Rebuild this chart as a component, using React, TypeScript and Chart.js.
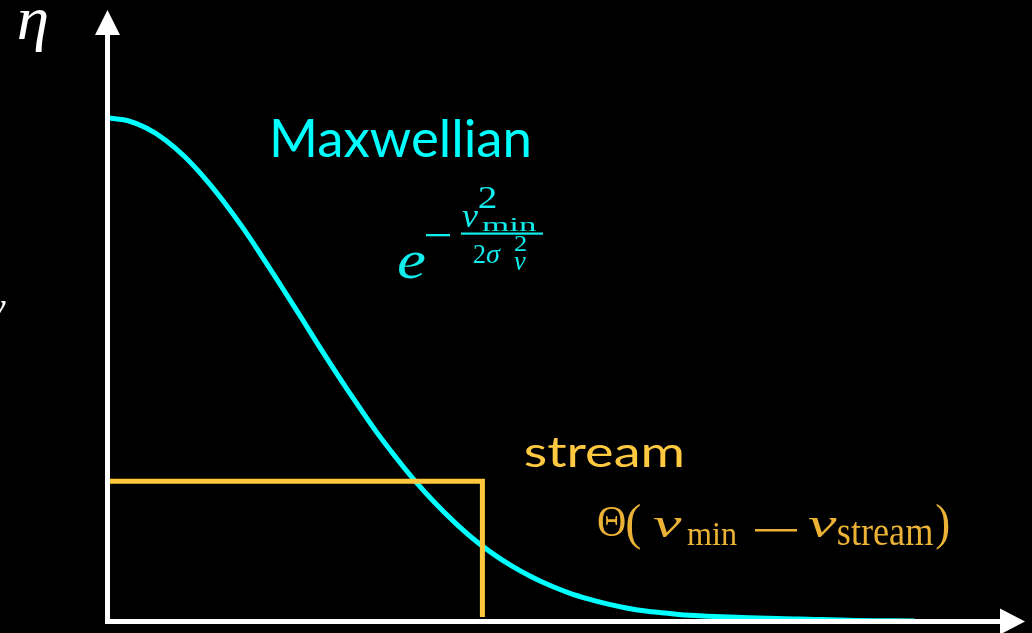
import React, { useEffect, useRef } from "react";
import { Chart, registerables } from "chart.js";

Chart.register(...registerables);

// Speed grid (v_min in units of sigma_v) and the Maxwellian weight read along it
const speedGrid = [
  0, 0.1, 0.2, 0.3, 0.4, 0.5, 0.6, 0.7, 0.8, 0.9, 1.0, 1.1, 1.2, 1.3, 1.4, 1.5, 1.6, 1.7, 1.8, 1.9,
  2.0, 2.1, 2.2, 2.3, 2.4, 2.5, 2.6, 2.7, 2.8, 2.9, 3.0, 3.3, 3.6, 3.9, 4.2,
];
const maxwellianEta = [
  1.0, 0.995, 0.98, 0.956, 0.923, 0.882, 0.835, 0.783, 0.726, 0.667, 0.607, 0.546, 0.487, 0.43, 0.375,
  0.325, 0.278, 0.236, 0.198, 0.164, 0.135, 0.11, 0.089, 0.071, 0.056, 0.044, 0.034, 0.026, 0.02, 0.016,
  0.012, 0.007, 0.004, 0.001, 0.0,
];

// Stream step function: flat until v_stream, then drops
const streamSpeed = [0, 1.95, 1.95];
const streamEta = [0.278, 0.278, 0.008];

// Axis ranges
const speedRange = [0, 4.8125];
const etaRange = [0, 1.2];

const CYAN = "#00FFFF";
const CYAN_MATH = "#12EDED";
const GOLD_LINE = "#FFC83C";
const GOLD_TEXT = "#FFC940";
const GOLD_MATH = "#EBB236";
const SERIF = '"Liberation Serif", "DejaVu Serif", serif';
const SANS = 'Lato, "Open Sans", sans-serif';

type Box = [number, number, number, number];

// Draw a piece of text scaled so its inked bounds fill the given box
function fitText(ctx: CanvasRenderingContext2D, text: string, font: string, color: string, box: Box) {
  const [x0, y0, x1, y1] = box;
  ctx.save();
  ctx.font = font;
  ctx.fillStyle = color;
  ctx.textAlign = "left";
  ctx.textBaseline = "alphabetic";
  const m = ctx.measureText(text);
  const w = m.actualBoundingBoxLeft + m.actualBoundingBoxRight;
  const h = m.actualBoundingBoxAscent + m.actualBoundingBoxDescent;
  ctx.translate(x0, y0);
  ctx.scale((x1 - x0) / w, (y1 - y0) / h);
  ctx.fillText(text, m.actualBoundingBoxLeft, m.actualBoundingBoxAscent);
  ctx.restore();
}

// Draw text on a baseline, stretched horizontally only to span x0..x1
function fitWidth(ctx: CanvasRenderingContext2D, text: string, font: string, color: string, x0: number, x1: number, baseline: number) {
  ctx.save();
  ctx.font = font;
  ctx.fillStyle = color;
  ctx.textAlign = "left";
  ctx.textBaseline = "alphabetic";
  const m = ctx.measureText(text);
  const w = m.actualBoundingBoxLeft + m.actualBoundingBoxRight;
  ctx.translate(x0, baseline);
  ctx.scale((x1 - x0) / w, 1);
  ctx.fillText(text, m.actualBoundingBoxLeft, 0);
  ctx.restore();
}

const decorPlugin = {
  id: "decor",
  beforeDraw(chart: any) {
    const { ctx, width, height } = chart;
    ctx.save();
    ctx.fillStyle = "#000";
    ctx.fillRect(0, 0, width, height);
    ctx.restore();
  },
  afterDatasetsDraw(chart: any) {
    const { ctx } = chart;
    const xs = chart.scales.x;
    const ys = chart.scales.y;
    const ox = xs.getPixelForValue(0);
    const oy = ys.getPixelForValue(0) + 0.5;

    ctx.save();
    // axes
    ctx.strokeStyle = "#fff";
    ctx.fillStyle = "#fff";
    ctx.lineWidth = 5;
    ctx.lineCap = "butt";
    ctx.beginPath();
    ctx.moveTo(ox - 0.5, 34);
    ctx.lineTo(ox - 0.5, oy + 2.5);
    ctx.moveTo(ox - 3, oy);
    ctx.lineTo(1001, oy);
    ctx.stroke();
    // arrow heads
    ctx.beginPath();
    ctx.moveTo(ox - 0.5, 10);
    ctx.lineTo(ox - 13, 35);
    ctx.lineTo(ox + 12, 35);
    ctx.closePath();
    ctx.fill();
    ctx.beginPath();
    ctx.moveTo(1025, oy);
    ctx.lineTo(1000, oy - 13);
    ctx.lineTo(1000, oy + 13);
    ctx.closePath();
    ctx.fill();
    ctx.restore();

    // axis symbols
    fitText(ctx, "η", `italic 56px ${SERIF}`, "#fff", [19, 10, 47, 52]);
    fitText(ctx, "v", `italic 44px ${SERIF}`, "#fff", [-12, 301, 6, 320]);

    // labels
    fitText(ctx, "Maxwellian", `54px ${SANS}`, CYAN, [273, 118, 529, 157]);
    fitWidth(ctx, "stream", `43px ${SANS}`, GOLD_TEXT, 525, 682, 467);

    // e^{-v_min^2 / (2 sigma_v^2)}
    fitText(ctx, "e", `italic 58px ${SERIF}`, CYAN_MATH, [398, 252, 425, 279]);
    ctx.save();
    ctx.fillStyle = CYAN_MATH;
    ctx.fillRect(426, 234, 24, 2.3);
    ctx.fillRect(461, 232.5, 82, 2.2);
    ctx.restore();
    fitText(ctx, "v", `italic 36px ${SERIF}`, CYAN_MATH, [462, 211, 478, 227]);
    fitText(ctx, "2", `30px ${SERIF}`, CYAN_MATH, [479, 188, 496, 208]);
    fitText(ctx, "min", `27px ${SERIF}`, CYAN_MATH, [482, 219, 537, 231]);
    fitText(ctx, "2", `26px ${SERIF}`, CYAN_MATH, [474, 245, 485, 263]);
    fitText(ctx, "σ", `italic 30px ${SERIF}`, CYAN_MATH, [486, 249, 501, 263]);
    fitText(ctx, "2", `22px ${SERIF}`, CYAN_MATH, [514, 236, 526, 251]);
    fitText(ctx, "v", `italic 22px ${SERIF}`, CYAN_MATH, [514, 258, 526, 270]);

    // Theta(v_min - v_stream)
    fitText(ctx, "Θ", `42px ${SERIF}`, GOLD_MATH, [598, 507, 625, 536]);
    fitText(ctx, "(", `52px ${SERIF}`, GOLD_MATH, [627, 503, 640, 551]);
    fitText(ctx, "v", `italic 42px ${SERIF}`, GOLD_MATH, [653, 518, 682, 537]);
    fitText(ctx, "min", `30px ${SERIF}`, GOLD_MATH, [687, 523, 737, 545]);
    ctx.save();
    ctx.fillStyle = GOLD_MATH;
    ctx.fillRect(755, 529, 42, 2.5);
    ctx.restore();
    fitText(ctx, "v", `italic 42px ${SERIF}`, GOLD_MATH, [808, 518, 837, 537]);
    fitText(ctx, "stream", `30px ${SERIF}`, GOLD_MATH, [838, 522, 933, 545]);
    fitText(ctx, ")", `52px ${SERIF}`, GOLD_MATH, [936, 503, 949, 551]);
  },
};

export default function App() {
  const canvasRef = useRef<HTMLCanvasElement | null>(null);

  useEffect(() => {
    document.body.style.margin = "0";
    document.body.style.background = "#000";
    const canvas = canvasRef.current;
    if (!canvas) return;

    const maxwellian = speedGrid.map((v, i) => ({ x: v, y: maxwellianEta[i] }));
    const stream = streamSpeed.map((v, i) => ({ x: v, y: streamEta[i] }));

    const chart = new Chart(canvas, {
      type: "line",
      data: {
        datasets: [
          {
            label: "Maxwellian",
            data: maxwellian,
            borderColor: CYAN,
            borderWidth: 5,
            pointRadius: 0,
            tension: 0.4,
            fill: false,
            clip: false as any,
            order: 2,
          },
          {
            label: "stream",
            data: stream,
            borderColor: GOLD_LINE,
            borderWidth: 5,
            pointRadius: 0,
            tension: 0,
            borderJoinStyle: "miter",
            fill: false,
            clip: false as any,
            order: 1,
          },
        ],
      },
      options: {
        responsive: false,
        animation: false,
        layout: { padding: { left: 108, right: 0, top: 17.4, bottom: 12 } },
        plugins: { legend: { display: false }, tooltip: { enabled: false } },
        scales: {
          x: { type: "linear", min: speedRange[0], max: speedRange[1], display: false },
          y: { type: "linear", min: etaRange[0], max: etaRange[1], display: false },
        },
      },
      plugins: [decorPlugin],
    });

    return () => chart.destroy();
  }, []);

  return (
    <div style={{ width: 1032, height: 633, background: "#000" }}>
      <canvas ref={canvasRef} width={1032} height={633} style={{ display: "block" }} />
    </div>
  );
}
